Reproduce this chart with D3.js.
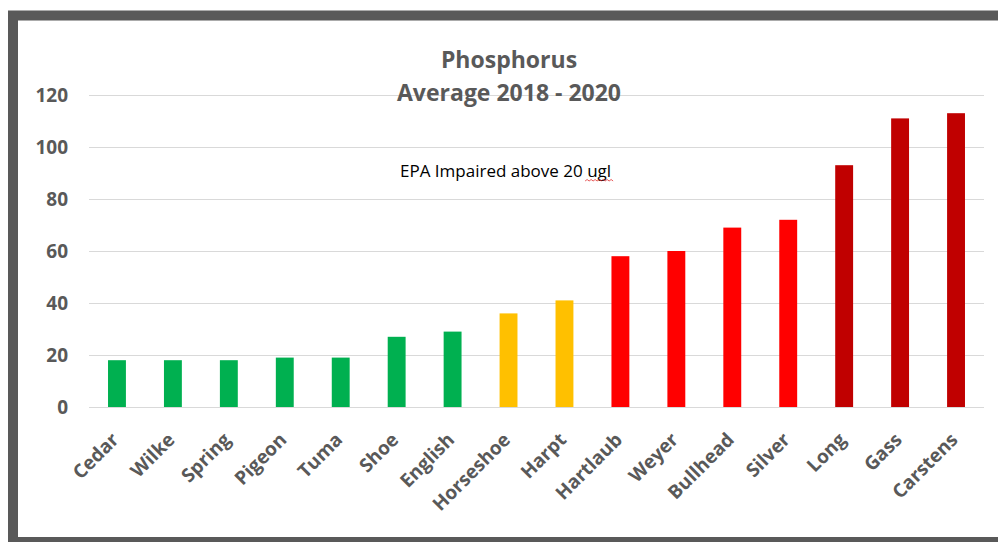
<!DOCTYPE html>
<html>
<head>
<meta charset="utf-8">
<script src="https://cdn.jsdelivr.net/npm/d3@7"></script>
<style>
  html, body { margin: 0; padding: 0; background: #fff; }
  svg { display: block; }
</style>
</head>
<body>
<svg id="chart" width="998" height="542"></svg>
<script>
const categories = ["Cedar","Wilke","Spring","Pigeon","Tuma","Shoe","English","Horseshoe","Harpt","Hartlaub","Weyer","Bullhead","Silver","Long","Gass","Carstens"];
const values = [18,18,18,19,19,27,29,36,41,58,60,69,72,93,111,113];
const levels = ["good","good","good","good","good","good","good","warn","warn","bad","bad","bad","bad","worst","worst","worst"];
const yTicks = [0,20,40,60,80,100,120];
const titleLines = ["Phosphorus","Average 2018 - 2020"];
const note = "EPA Impaired above 20 ugl";

const colorOf = d3.scaleOrdinal()
  .domain(["good","warn","bad","worst"])
  .range(["#00B050","#FFC000","#FF0000","#C00000"]);

const svg = d3.select("#chart");
const font = "'Open Sans', 'Segoe UI', sans-serif";

// frame
svg.append("rect").attr("x",0).attr("y",0).attr("width",998).attr("height",542).attr("fill","#fff");
svg.append("rect")
  .attr("x",13).attr("y",15.5).attr("width",1000).attr("height",526.5)
  .attr("fill","none").attr("stroke","#595959").attr("stroke-width",10);

const x = d3.scaleBand().domain(categories).range([89,984]).paddingInner(0.68).paddingOuter(0.34);
const y = d3.scaleLinear().domain([0,120]).range([407,95]);

// gridlines
svg.append("g").selectAll("line").data(yTicks).join("line")
  .attr("x1",89).attr("x2",984)
  .attr("y1",d=>y(d)+0.5).attr("y2",d=>y(d)+0.5)
  .attr("stroke","#D9D9D9").attr("stroke-width",1);

// y axis labels
const yAxis = d3.axisLeft(y).tickValues(yTicks).tickSize(0).tickPadding(0);
const gy = svg.append("g").attr("transform","translate(68,0)").call(yAxis);
gy.select(".domain").remove();
gy.selectAll("text").attr("font-family",font).attr("font-weight","bold")
  .attr("font-size",19).attr("fill","#595959").attr("dy","0.35em");

// bars
svg.append("g").selectAll("rect").data(categories).join("rect")
  .attr("x",d=>x(d)).attr("width",x.bandwidth())
  .attr("y",(d,i)=>y(values[i])).attr("height",(d,i)=>y(0)-y(values[i]))
  .attr("fill",(d,i)=>colorOf(levels[i]));

// x axis labels
const xAxis = d3.axisBottom(x).tickSize(0).tickPadding(0);
const gx = svg.append("g").attr("transform","translate(0,407)").call(xAxis);
gx.select(".domain").remove();
gx.selectAll("text")
  .attr("font-family",font).attr("font-weight","bold").attr("font-size",19)
  .attr("fill","#595959").attr("text-anchor","end").attr("dy",0).attr("y",0)
  .attr("transform","translate(3,34) rotate(-45)");

// title
svg.append("g").selectAll("text").data(titleLines).join("text")
  .attr("x",509).attr("y",(d,i)=>68+i*33)
  .attr("text-anchor","middle").attr("font-family",font).attr("font-weight","bold")
  .attr("font-size",23).attr("fill","#595959").text(d=>d);

// annotation
const noteText = svg.append("text").attr("x",400).attr("y",177)
  .attr("font-family",font).attr("font-size",17).attr("fill","#000").text(note);
// spell-check squiggle under last word
const bb = noteText.node().getBBox();
const endX = bb.x + bb.width;
const startX = endX - 26;
let p = `M${startX},181`;
for (let xx = startX; xx < endX; xx += 4) p += ` l2,-1.5 l2,1.5`;
svg.append("path").attr("d",p).attr("fill","none").attr("stroke","#E03030").attr("stroke-width",0.8);
</script>
</body>
</html>
